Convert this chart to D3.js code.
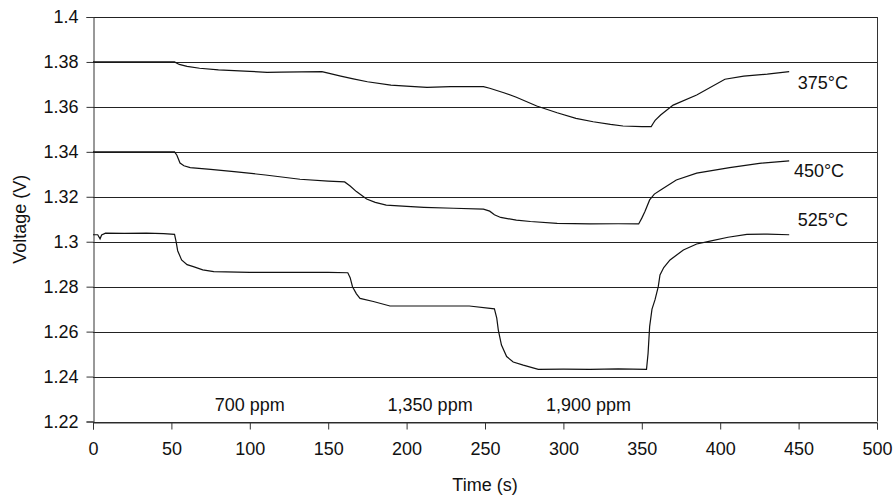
<!DOCTYPE html>
<html>
<head>
<meta charset="utf-8">
<script src="https://cdn.jsdelivr.net/npm/d3@7"></script>
<style>
  html, body { margin: 0; padding: 0; background: #fff; }
  svg { display: block; font-family: "Liberation Sans", Arial, sans-serif; }
</style>
</head>
<body>
<svg id="chart" width="896" height="496"></svg>
<script>
// ---- data ----
const xTicks = [0, 50, 100, 150, 200, 250, 300, 350, 400, 450, 500];
const yTicks = [1.22, 1.24, 1.26, 1.28, 1.3, 1.32, 1.34, 1.36, 1.38, 1.4];

const t375 = [0, 52, 55, 60, 68, 80, 90, 100, 111, 120, 146, 150, 158, 166, 175, 190, 200, 213, 228, 249, 253, 262, 270, 283, 296, 308, 319, 330, 338, 350, 356, 357.3, 358.5, 362, 370, 385, 403, 415, 430, 444];
const v375 = [1.38, 1.38, 1.3789, 1.3780, 1.3772, 1.3765, 1.3761, 1.3758, 1.3754, 1.3755, 1.3757, 1.3750, 1.3737, 1.3725, 1.3712, 1.3697, 1.3692, 1.3687, 1.3690, 1.3690, 1.3683, 1.3663, 1.3643, 1.3604, 1.3574, 1.3549, 1.3534, 1.3522, 1.3515, 1.3512, 1.3512, 1.3527, 1.3540, 1.3564, 1.3608, 1.3653, 1.3723, 1.3737, 1.3746, 1.3757];

const t450 = [0, 52, 53.5, 55.5, 58, 62, 75, 90, 110, 132, 150, 160.5, 164, 168, 174.5, 180, 187, 200, 211, 230, 249, 253, 256, 260, 270, 279, 296, 317, 335, 348, 350, 352, 355, 358, 362, 372, 385, 406, 425, 444];
const v450 = [1.34, 1.34, 1.3385, 1.3350, 1.3338, 1.3330, 1.3322, 1.3312, 1.3297, 1.3278, 1.3270, 1.3266, 1.3248, 1.3223, 1.3190, 1.3175, 1.3163, 1.3157, 1.3153, 1.3149, 1.3145, 1.3136, 1.3120, 1.3108, 1.3096, 1.3090, 1.3082, 1.3079, 1.3080, 1.3079, 1.3105, 1.3135, 1.3186, 1.3212, 1.3230, 1.3275, 1.3305, 1.3330, 1.3349, 1.3360];

const t525 = [0, 3, 4.5, 5.5, 8, 20, 34, 45, 52, 53, 54, 56.5, 60, 64, 70, 77, 100, 132, 150, 162.5, 164, 165.5, 168, 170.3, 178.8, 189.4, 210, 240, 256, 257.5, 258.5, 260.5, 263.8, 268, 274.4, 284, 300, 317, 335, 353, 354, 355, 356.5, 358.4, 360.5, 361.6, 364, 368, 376.5, 385, 393.5, 405, 417, 430, 444];
const v525 = [1.3031, 1.3031, 1.3013, 1.3030, 1.3038, 1.3037, 1.3038, 1.3036, 1.3033, 1.3000, 1.2960, 1.2919, 1.2898, 1.2889, 1.2875, 1.2867, 1.2864, 1.2864, 1.2864, 1.2862, 1.2840, 1.2800, 1.2768, 1.2748, 1.2734, 1.2714, 1.2714, 1.2714, 1.2701, 1.2660, 1.2607, 1.2540, 1.2489, 1.2465, 1.2451, 1.2432, 1.2433, 1.2432, 1.2434, 1.2432, 1.2503, 1.2622, 1.2700, 1.2741, 1.2800, 1.2852, 1.2885, 1.2919, 1.2963, 1.2990, 1.3003, 1.3020, 1.3033, 1.3034, 1.3031];

const seriesNames = ["375°C", "450°C", "525°C"];
const labelT = [449.5, 447, 449.5];
const labelV = [1.3706, 1.3317, 1.3097];

const ppmLabels = ["700 ppm", "1,350 ppm", "1,900 ppm"];
const ppmT = [100, 215, 316];
const ppmV = 1.2273;

// ---- drawing ----
const svg = d3.select("#chart");
svg.append("rect").attr("width", 896).attr("height", 496).attr("fill", "#fff");

const x = d3.scaleLinear().domain([0, 500]).range([93, 877]);
const y = d3.scaleLinear().domain([1.22, 1.4]).range([421.5, 17]);

// gridlines
svg.append("g").selectAll("line").data(yTicks).join("line")
  .attr("x1", x(0)).attr("x2", x(500))
  .attr("y1", d => Math.round(y(d)) + 0.5).attr("y2", d => Math.round(y(d)) + 0.5)
  .attr("stroke", "#222").attr("stroke-width", 1);

// right border
svg.append("line")
  .attr("x1", x(500) + 0.5).attr("x2", x(500) + 0.5)
  .attr("y1", y(1.4)).attr("y2", y(1.22))
  .attr("stroke", "#333");

// axes
const xAxis = d3.axisBottom(x).tickValues(xTicks).tickSize(7).tickPadding(13).tickFormat(d3.format("d"));
const gx = svg.append("g").attr("transform", `translate(0,${Math.round(y(1.22)) + 0.5})`).call(xAxis);
const yAxis = d3.axisLeft(y).tickValues(yTicks).tickSize(7).tickPadding(8).tickFormat(d => String(+d.toFixed(2)));
const gy = svg.append("g").attr("transform", `translate(${Math.round(x(0)) + 0.5},0)`).call(yAxis);

[gx, gy].forEach(g => {
  g.select(".domain").attr("stroke", "#333");
  g.selectAll(".tick line").attr("stroke", "#333");
  g.selectAll(".tick text").attr("fill", "#111").style("font-size", "18px")
    .style("font-family", '"Liberation Sans", Arial, sans-serif');
});

// series
const line = d3.line().x(d => x(d[0])).y(d => y(d[1]));
const series = [
  d3.zip(t375, v375),
  d3.zip(t450, v450),
  d3.zip(t525, v525)
];
svg.append("g").selectAll("path").data(series).join("path")
  .attr("d", line)
  .attr("fill", "none")
  .attr("stroke", "#111")
  .attr("stroke-width", 1.2);

// series labels
svg.append("g").selectAll("text").data(seriesNames).join("text")
  .attr("x", (d, i) => x(labelT[i]))
  .attr("y", (d, i) => y(labelV[i]))
  .attr("dy", "0.35em")
  .attr("font-size", 18)
  .attr("fill", "#111")
  .text(d => d);

// ppm annotations
svg.append("g").selectAll("text").data(ppmLabels).join("text")
  .attr("x", (d, i) => x(ppmT[i]))
  .attr("y", y(ppmV))
  .attr("dy", "0.35em")
  .attr("text-anchor", "middle")
  .attr("font-size", 18)
  .attr("fill", "#111")
  .text(d => d);

// axis titles
svg.append("text")
  .attr("x", x(250)).attr("y", 485).attr("dy", "0.35em")
  .attr("text-anchor", "middle").attr("font-size", 18).attr("fill", "#111")
  .text("Time (s)");
svg.append("text")
  .attr("transform", `translate(20,${y(1.31)}) rotate(-90)`)
  .attr("dy", "0.35em")
  .attr("text-anchor", "middle").attr("font-size", 18).attr("fill", "#111")
  .text("Voltage (V)");
</script>
</body>
</html>
